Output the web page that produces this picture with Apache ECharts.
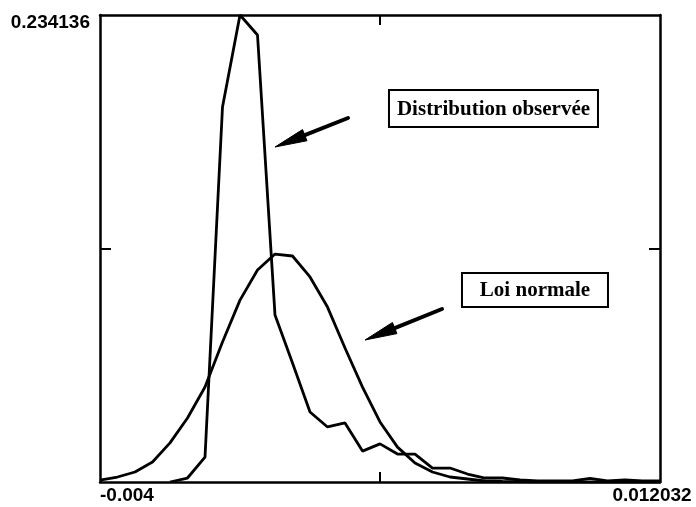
<!DOCTYPE html>
<html>
<head>
<meta charset="utf-8">
<script src="https://cdn.jsdelivr.net/npm/echarts@6/dist/echarts.min.js"></script>
<style>
html,body{margin:0;padding:0;background:#fff;}
#chart{width:696px;height:507px;}
</style>
</head>
<body>
<div id="chart"></div>
<script>
// Bin centres (x values)
const xValues = [-0.004, -0.003499, -0.002998, -0.002497, -0.001996, -0.001495, -0.000994, -0.000493,
  0.000008, 0.000509, 0.00101, 0.001511, 0.002012, 0.002513, 0.003014, 0.003515, 0.004016,
  0.004517, 0.005018, 0.005519, 0.00602, 0.006521, 0.007022, 0.007523, 0.008024, 0.008525,
  0.009026, 0.009527, 0.010028, 0.010529, 0.01103, 0.011531, 0.012032];
// Observed distribution
const observed = [null, null, null, null, 0, 0.0020, 0.0125, 0.1880, 0.234136, 0.2241, 0.0837,
  0.0597, 0.0351, 0.0276, 0.0296, 0.0155, 0.0191, 0.0140, 0.0140, 0.0070, 0.0070, 0.0040,
  0.0020, 0.0020, 0.0010, 0.0005, 0.0005, 0.0005, 0.0018, 0.0005, 0.0010, 0.0005, 0.0005];
// Normal law
const normal = [0.0010, 0.0025, 0.0050, 0.0100, 0.0196, 0.0321, 0.0476, 0.0702, 0.0912, 0.1063,
  0.1143, 0.1133, 0.1028, 0.0877, 0.0672, 0.0476, 0.0301, 0.0175, 0.0095, 0.0050, 0.0025,
  0.0015, 0.0005, 0.0003, 0.0002, 0.0001, 0.0001, 0.0001, 0, 0, 0, 0, 0];

const xMin = -0.004, xMax = 0.012032;
const yMin = 0, yMax = 0.234136;
const xTickLabels = [-0.004, 0.012032];
const yTickLabels = [0.234136];
const xMidTick = [0.004016];
const yMidTick = [0.117068];

// Annotations: label text, box centre [x,y], arrow tail [x,y], arrow tip [x,y]
const annLabels = ['Distribution observée', 'Loi normale'];
const annBoxCenters = [[0.007265, 0.18726], [0.008453, 0.09626]];
const annArrowTails = [[0.0031, 0.1825], [0.005791, 0.08674]];
const annArrowTips = [[0.00101, 0.16796], [0.003587, 0.07119]];

const chart = echarts.init(document.getElementById('chart'), null, {renderer: 'canvas'});

const axisLineStyle = {color: '#000', width: 2.5};
const labelFont = {color: '#000', fontFamily: 'Liberation Sans', fontWeight: 'bold', fontSize: 19};

function mkSeries(name, vals) {
  return {
    name, type: 'line', symbol: 'none', animation: false,
    data: xValues.map((x, i) => [x, vals[i]]),
    lineStyle: {color: '#000', width: 2.8},
    connectNulls: false, z: 3
  };
}

chart.setOption({
  backgroundColor: '#fff',
  animation: false,
  grid: {left: 100, right: 36, top: 15, bottom: 25, containLabel: false},
  xAxis: [
    {type: 'value', position: 'bottom', min: xMin, max: xMax,
     axisLine: {show: true, onZero: false, lineStyle: axisLineStyle},
     axisTick: {show: true, inside: true, length: 10, customValues: xMidTick, lineStyle: {color: '#000', width: 2}},
     splitLine: {show: false},
     axisLabel: Object.assign({show: true, customValues: xTickLabels, margin: 4,
       showMinLabel: true, showMaxLabel: true,
       alignMinLabel: 'left', alignMaxLabel: 'center',
       formatter: v => (Math.abs(v - xMin) < 1e-9 ? '{l|-0.004}' : '{r|0.012032}'),
       rich: {
         l: Object.assign({}, labelFont),
         r: Object.assign({padding: [0, 16, 0, 0]}, labelFont)
       }}, labelFont)},
    {type: 'value', position: 'top', min: xMin, max: xMax,
     axisLine: {show: true, onZero: false, lineStyle: axisLineStyle},
     axisTick: {show: true, inside: true, length: 10, customValues: xMidTick, lineStyle: {color: '#000', width: 2}},
     splitLine: {show: false}, axisLabel: {show: false}}
  ],
  yAxis: [
    {type: 'value', position: 'left', min: yMin, max: yMax,
     axisLine: {show: true, onZero: false, lineStyle: axisLineStyle},
     axisTick: {show: true, inside: true, length: 11, customValues: yMidTick, lineStyle: {color: '#000', width: 2}},
     splitLine: {show: false},
     axisLabel: Object.assign({show: true, customValues: yTickLabels, margin: 10,
       showMinLabel: true, showMaxLabel: true,
       verticalAlign: 'top', lineHeight: 16,
       formatter: v => String(v)}, labelFont)},
    {type: 'value', position: 'right', min: yMin, max: yMax,
     axisLine: {show: true, onZero: false, lineStyle: axisLineStyle},
     axisTick: {show: true, inside: true, length: 11, customValues: yMidTick, lineStyle: {color: '#000', width: 2}},
     splitLine: {show: false}, axisLabel: {show: false}}
  ],
  series: [mkSeries('Distribution observée', observed), mkSeries('Loi normale', normal)]
});

// Build annotation graphics from data coordinates
function px(p) { return chart.convertToPixel({xAxisIndex: 0, yAxisIndex: 0}, p); }
const boxSizes = [[209, 37], [146, 34]];
const elements = [];
annLabels.forEach((lab, i) => {
  const c = px(annBoxCenters[i]);
  const [w, h] = boxSizes[i];
  elements.push({type: 'rect', silent: true, z: 10,
    shape: {x: c[0] - w / 2, y: c[1] - h / 2, width: w, height: h},
    style: {fill: '#fff', stroke: '#000', lineWidth: 2}});
  elements.push({type: 'text', silent: true, z: 11, x: c[0], y: c[1] + 1,
    style: {text: lab, fill: '#000', font: 'bold 21px "Liberation Serif"', textAlign: 'center', textVerticalAlign: 'middle'}});
  const t = px(annArrowTails[i]);
  const p = px(annArrowTips[i]);
  const dx = p[0] - t[0], dy = p[1] - t[1];
  const L = Math.sqrt(dx * dx + dy * dy);
  const ux = dx / L, uy = dy / L;
  const headLen = 32, headHalf = 6;
  const bx = p[0] - ux * headLen, by = p[1] - uy * headLen;
  elements.push({type: 'line', silent: true, z: 10,
    shape: {x1: t[0], y1: t[1], x2: bx + ux * 4, y2: by + uy * 4},
    style: {stroke: '#000', lineWidth: 4, lineCap: 'round'}});
  elements.push({type: 'polygon', silent: true, z: 10,
    shape: {points: [[p[0], p[1]], [bx - uy * headHalf, by + ux * headHalf], [bx + uy * headHalf, by - ux * headHalf]]},
    style: {fill: '#000', stroke: '#000', lineWidth: 1}});
});
chart.setOption({graphic: {elements}});
</script>
</body>
</html>
